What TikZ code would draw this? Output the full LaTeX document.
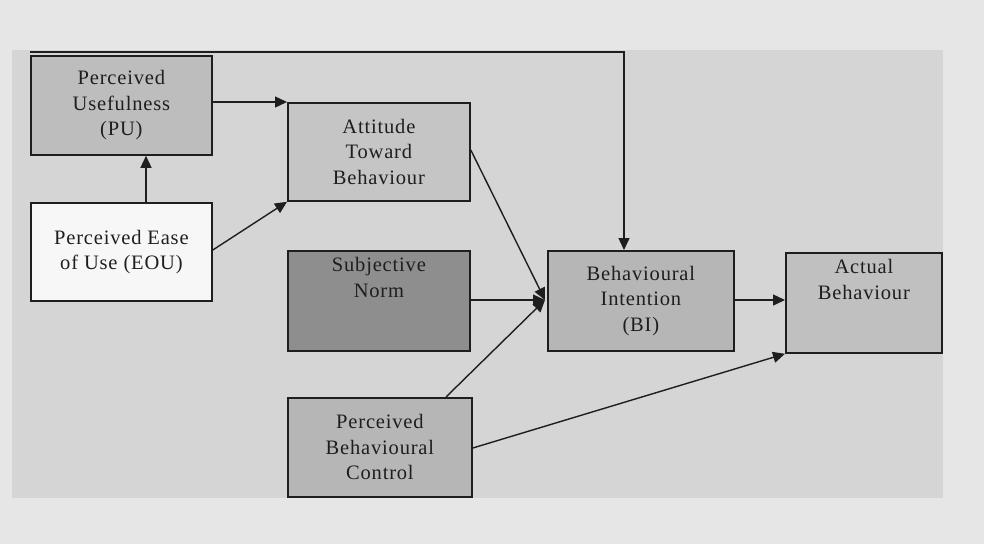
\documentclass[tikz,border=0pt]{standalone}
\usepackage{fontspec}
\setmainfont{Liberation Serif}
\usetikzlibrary{arrows.meta}
\definecolor{pagebg}{HTML}{E6E6E6}
\definecolor{panelbg}{HTML}{D5D5D5}
\definecolor{fillPU}{HTML}{BDBDBD}
\definecolor{fillEOU}{HTML}{F7F7F7}
\definecolor{fillATB}{HTML}{C5C5C5}
\definecolor{fillSN}{HTML}{8E8E8E}
\definecolor{fillPBC}{HTML}{B6B6B6}
\definecolor{fillBI}{HTML}{B6B6B6}
\definecolor{fillAB}{HTML}{C0C0C0}
\definecolor{inkc}{HTML}{1E1E1E}
\begin{document}
\begin{tikzpicture}[x=1pt,y=-1pt,
  concept/.style={draw=inkc,line width=1.8pt,anchor=north west,inner sep=0pt,
    minimum width=#1,align=center,
    font=\fontsize{20.5}{25.5}\selectfont\addfontfeature{LetterSpace=4},text=inkc},
  link/.style={draw=inkc,line width=1.4pt,-{Triangle[length=12pt,width=11pt]}}]
  % page and panel
  \fill[pagebg] (0,0) rectangle (984,544);
  \fill[panelbg] (12,50) rectangle (943,498);
  \useasboundingbox (0,0) rectangle (984,544);

  % concept boxes
  \node[concept=181pt,minimum height=99pt,fill=fillPU] (PU) at (30,55)
    {Perceived\\Usefulness\\(PU)};
  \node[concept=181pt,minimum height=98pt,fill=fillEOU] (EOU) at (30,202)
    {Perceived Ease\\of Use (EOU)};
  \node[concept=182pt,minimum height=98pt,fill=fillATB] (ATB) at (287,102)
    {Attitude\\Toward\\Behaviour};
  \node[concept=182pt,minimum height=100pt,fill=fillSN] (SN) at (287,250)
    {Subjective\\Norm\\[22pt]};
  \node[concept=184pt,minimum height=99pt,fill=fillPBC] (PBC) at (287,397)
    {Perceived\\Behavioural\\Control};
  \node[concept=186pt,minimum height=100pt,fill=fillBI] (BI) at (547,250)
    {Behavioural\\Intention\\(BI)};
  \node[concept=156pt,minimum height=100pt,fill=fillAB] (AB) at (785,252)
    {Actual\\Behaviour\\[22pt]};

  % connection points
  \coordinate (puOut) at (PU.east |- 0,102);
  \coordinate (biTop) at (624,250);
  \coordinate (biIn) at (545,300);
  \coordinate (topRun) at (624,52);
  \coordinate (topStart) at (30,52);

  % paths
  \draw[link] (puOut) -- (ATB.north west);
  \draw[link] (EOU.north -| 146,0) -- (PU.south -| 146,0);
  \draw[link] (EOU.east |- 0,250) -- (ATB.south west);
  \draw[link] (ATB.east |- 0,150) -- (biIn);
  \draw[link] (SN.east |- 0,300) -- (biIn);
  \draw[link] (PBC.north -| 446,0) -- (biIn);
  \draw[link] (topStart) -- (topRun) -- (biTop);
  \draw[link] (BI.east |- 0,300) -- (AB.west |- 0,300);
  \draw[link] (PBC.east |- 0,448) -- (AB.south west);
\end{tikzpicture}
\end{document}
